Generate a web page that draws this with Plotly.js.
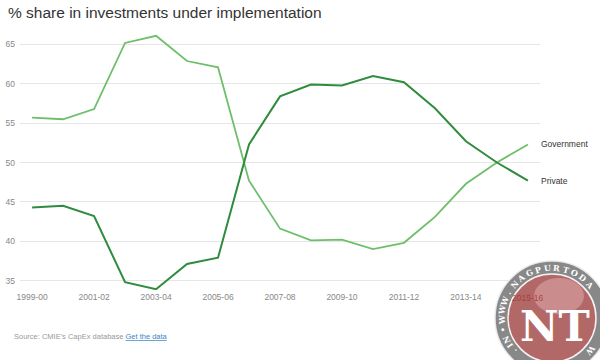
<!DOCTYPE html>
<html>
<head>
<meta charset="utf-8">
<script src="https://cdn.plot.ly/plotly-3.0.1.min.js"></script>
<style>html,body{margin:0;padding:0;background:#fff;}#chart{width:600px;height:360px;}</style>
</head>
<body>
<div id="chart"></div>
<script>
var years = ['1999-00','2000-01','2001-02','2002-03','2003-04','2004-05','2005-06','2006-07','2007-08','2008-09','2009-10','2010-11','2011-12','2012-13','2013-14','2014-15','2015-16'];
var government = [55.7, 55.5, 56.8, 65.2, 66.1, 62.9, 62.1, 47.7, 41.6, 40.1, 40.2, 39.0, 39.8, 43.1, 47.3, 50.0, 52.3];
var privateShare = [44.3, 44.5, 43.2, 34.8, 33.9, 37.1, 37.9, 52.3, 58.4, 59.9, 59.8, 61.0, 60.2, 56.9, 52.7, 50.0, 47.7];
var xTickLabels = ['1999-00','2001-02','2003-04','2005-06','2007-08','2009-10','2011-12','2013-14','2015-16'];
var yTicks = [35, 40, 45, 50, 55, 60, 65];
var seriesNames = ['Government', 'Private'];

var FONT = '"Liberation Sans", Arial, sans-serif';
var govColor = '#6dbf6a';
var privColor = '#2f8c3e';

var traces = [
  {x: years, y: government, type: 'scatter', mode: 'lines', name: seriesNames[0],
   line: {color: govColor, width: 1.8}, hoverinfo: 'x+y'},
  {x: years, y: privateShare, type: 'scatter', mode: 'lines', name: seriesNames[1],
   line: {color: privColor, width: 2}, hoverinfo: 'x+y'}
];

// plot area in pixels: x 20..540, y 33..290
var L = 20, R = 540, T = 33, B = 290;
function px(x){ return (x - L) / (R - L); }
function py(y){ return (B - y) / (B - T); }

var annotations = [
  {x: years[years.length-1], y: government[government.length-1], xref: 'x', yref: 'y',
   text: seriesNames[0], showarrow: false, xanchor: 'left', xshift: 11,
   font: {family: FONT, size: 8.5, color: '#333'}},
  {x: years[years.length-1], y: privateShare[privateShare.length-1], xref: 'x', yref: 'y',
   text: seriesNames[1], showarrow: false, xanchor: 'left', xshift: 11,
   font: {family: FONT, size: 8.5, color: '#333'}},
  {x: px(12), y: py(336), xref: 'paper', yref: 'paper', showarrow: false,
   xanchor: 'left', yanchor: 'middle',
   text: 'Source: CMIE\'s CapEx database <a href="#" style="color:#3b86c6"><u>Get the data</u></a>',
   font: {family: FONT, size: 7.5, color: '#999'}}
];

// watermark (decorative)
var cx = 552, cy = 318, rOut = 57, rIn = 44, rTxt = 50.5;
var shapes = [
  {type: 'circle', xref: 'paper', yref: 'paper', layer: 'above',
   x0: px(cx - rOut), x1: px(cx + rOut), y0: py(cy + rOut), y1: py(cy - rOut),
   fillcolor: 'rgba(115,115,115,0.85)', line: {color: 'rgba(235,235,235,0.9)', width: 1.5}},
  {type: 'circle', xref: 'paper', yref: 'paper', layer: 'above',
   x0: px(cx - rIn), x1: px(cx + rIn), y0: py(cy + rIn), y1: py(cy - rIn),
   fillcolor: 'rgba(196,92,92,0.72)', line: {color: 'rgba(255,255,255,0.9)', width: 1.5}},
  {type: 'circle', xref: 'paper', yref: 'paper', layer: 'above',
   x0: px(cx - 18), x1: px(cx + 32), y0: py(cy - 4), y1: py(cy - 40),
   fillcolor: 'rgba(255,225,225,0.3)', line: {width: 0}}
];
annotations.push({x: px(cx + 3), y: py(cy + 8), xref: 'paper', yref: 'paper', showarrow: false,
  text: '<b>NT</b>', font: {family: '"DejaVu Serif", "Liberation Serif", serif', size: 42, color: '#ffffff'},
  xanchor: 'center', yanchor: 'middle'});
// the reference shows the 2015-16 tick label tinted through the watermark
annotations.push({x: years[years.length-1], y: 0, xref: 'x', yref: 'paper', showarrow: false,
  text: xTickLabels[xTickLabels.length-1], yanchor: 'top', yshift: -1,
  font: {family: FONT, size: 8.5, color: 'rgba(170,60,60,0.9)'}});
var ring = 'WWW.NAGPURTODAY.IN';
function addLetter(ch, thetaDeg){
  var t = thetaDeg * Math.PI / 180;
  var lx = cx + rTxt * Math.sin(t), ly = cy - rTxt * Math.cos(t);
  if (lx > 594 || ly > 354) return; // keep letters fully inside the frame
  annotations.push({x: px(lx), y: py(ly), xref: 'paper', yref: 'paper', showarrow: false,
    text: '<b>' + ch + '</b>', textangle: thetaDeg, xanchor: 'center', yanchor: 'middle',
    font: {family: '"DejaVu Serif", serif', size: 8, color: '#ffffff'}});
}
for (var i = 0; i < ring.length; i++) addLetter(ring[i], (i - 8.5) * 10.8);
addLetter('•', 104); addLetter('•', -104);
for (var j = 0; j < ring.length; j++) addLetter(ring[j], 115 + j * 7.6);

var layout = {
  width: 600, height: 360,
  margin: {l: L, r: 600 - R, t: T, b: 360 - B, pad: 0},
  paper_bgcolor: '#ffffff', plot_bgcolor: '#ffffff',
  showlegend: false,
  title: {text: '% share in investments under implementation', x: 8/600, xanchor: 'left',
          xref: 'container', yref: 'container', y: 1 - 13/360, yanchor: 'middle',
          font: {family: FONT, size: 15.5, color: '#333333'}},
  xaxis: {type: 'category', range: [-0.39, 16.39], tickmode: 'array', tickvals: xTickLabels, ticktext: xTickLabels,
          showgrid: false, zeroline: false, showline: false, ticks: '',
          tickfont: {family: FONT, size: 8.5, color: '#888'}, fixedrange: true},
  yaxis: {range: [33.8, 66.46], tickmode: 'array', tickvals: yTicks,
          showgrid: true, gridcolor: '#e6e6e6', gridwidth: 1, zeroline: false, showline: false, ticks: '',
          ticklabelstandoff: 4,
          tickfont: {family: FONT, size: 8.5, color: '#888'}, fixedrange: true},
  annotations: annotations,
  shapes: shapes
};

Plotly.newPlot('chart', traces, layout, {displayModeBar: false, staticPlot: true});
</script>
</body>
</html>
